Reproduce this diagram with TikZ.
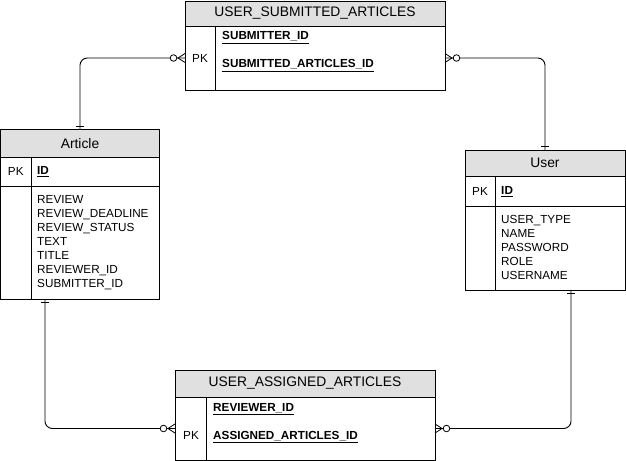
\documentclass[tikz,border=0pt]{standalone}
\usepackage{fontspec}
\setmainfont{Liberation Sans}
\usetikzlibrary{positioning}
\definecolor{hdrgray}{RGB}{224,224,224}
\newcommand{\keyfld}[1]{\textbf{\underline{#1}}}
\tikzset{
  cell/.style 2 args={draw, line width=0.8pt, inner sep=0pt, outer sep=0pt,
    anchor=north west, minimum width=#1*0.03cm, minimum height=#2*0.03cm,
    font=\fontsize{10}{12}\selectfont},
  hdr/.style 2 args={cell={#1}{#2}, fill=hdrgray, font=\fontsize{11.8}{14}\selectfont},
  fld/.style={inner sep=0pt, anchor=base west, font=\fontsize{10}{12}\selectfont},
  link/.style={line width=0.8pt, rounded corners=2.2mm},
  manyopt/.pic={
    \draw [line width=0.7pt] (0,-4.5) -- (7,0) -- (0,4.5);
    \draw [line width=0.7pt, fill=white] (11.5,0) circle (3.3);},
  onebar/.pic={\draw [line width=0.7pt] (3.5,-4) -- (3.5,4);}
}
\begin{document}
\begin{tikzpicture}[x=0.03cm, y=0.03cm]
  \useasboundingbox (0,0) rectangle (626,-461);

  % Table Article
  \node [hdr={159}{27.5}] (art) at (0.5,-129.5) {Article};
  \node [cell={30.5}{29}] (art-pk) at (art.south west) {PK};
  \node [cell={128.5}{29}] (art-key) at (art-pk.north east) {};
  \node [cell={30.5}{113}] (art-gap) at (art-pk.south west) {};
  \node [cell={128.5}{113}] (art-body) at (art-gap.north east) {};
  \node [fld] (art-id) at (37,-175) {\keyfld{ID}};
  \foreach \f [count=\i] in {REVIEW, REVIEW\_DEADLINE, REVIEW\_STATUS, TEXT,
      TITLE, REVIEWER\_ID, SUBMITTER\_ID}
    \node [fld] (art-f\i) at (37,-204-14*\i+14) {\f};
  \coordinate (art-low) at (45,-299);

  % Table User
  \node [hdr={160}{26}] (usr) at (465,-150) {User};
  \node [cell={30}{30}] (usr-pk) at (usr.south west) {PK};
  \node [cell={130}{30}] (usr-key) at (usr-pk.north east) {};
  \node [cell={30}{84}] (usr-gap) at (usr-pk.south west) {};
  \node [cell={130}{84}] (usr-body) at (usr-gap.north east) {};
  \node [fld] (usr-id) at (501,-194.5) {\keyfld{ID}};
  \foreach \f [count=\i] in {USER\_TYPE, NAME, PASSWORD, ROLE, USERNAME}
    \node [fld] (usr-f\i) at (501,-224-14*\i+14) {\f};
  \coordinate (usr-low) at (571,-290);

  % Table USER_SUBMITTED_ARTICLES
  \node [hdr={260}{25}] (sub) at (185,-1) {USER\_SUBMITTED\_ARTICLES};
  \node [cell={30}{64}] (sub-pk) at (sub.south west) {PK};
  \node [cell={230}{64}] (sub-body) at (sub-pk.north east) {};
  \node [fld] (sub-f1) at (222,-40) {\keyfld{SUBMITTER\_ID}};
  \node [fld] (sub-f2) at (222,-68) {\keyfld{SUBMITTED\_ARTICLES\_ID}};

  % Table USER_ASSIGNED_ARTICLES
  \node [hdr={260}{27}] (asg) at (175,-370) {USER\_ASSIGNED\_ARTICLES};
  \node [cell={31}{63}] (asg-pk) at (asg.south west) {};
  \node [cell={229}{63}] (asg-body) at (asg-pk.north east) {};
  \node [fld] (asg-pkt) at (183,-439) {PK};
  \node [fld] (asg-f1) at (213,-411.5) {\keyfld{REVIEWER\_ID}};
  \node [fld] (asg-f2) at (213,-439) {\keyfld{ASSIGNED\_ARTICLES\_ID}};

  % Relations
  \draw [link] (sub-pk.west) -| (art.north);
  \draw [link] (sub-body.east) -| (usr.north);
  \draw [link] (art-low) |- (asg-pk.west);
  \draw [link] (usr-low) |- (asg-body.east);

  % Cardinality marks
  \pic [rotate=180] at (sub-pk.west) {manyopt};
  \pic at (sub-body.east) {manyopt};
  \pic [rotate=180] at (asg-pk.west) {manyopt};
  \pic at (asg-body.east) {manyopt};
  \pic [rotate=90] at (art.north) {onebar};
  \pic [rotate=90] at (usr.north) {onebar};
  \pic [rotate=-90] at (art-low) {onebar};
  \pic [rotate=-90] at (usr-low) {onebar};
\end{tikzpicture}
\end{document}
